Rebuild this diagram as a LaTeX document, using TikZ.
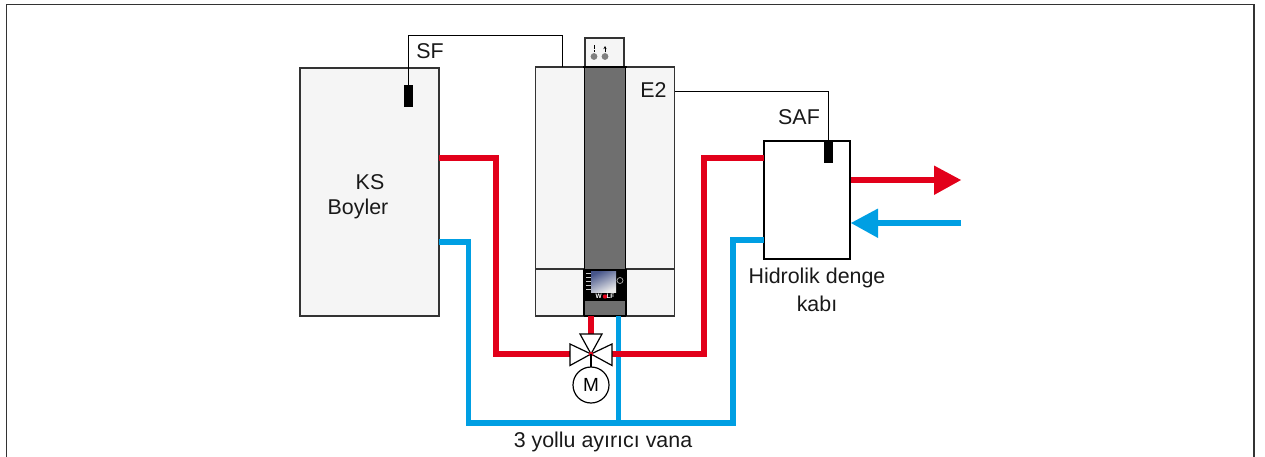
\documentclass[tikz,border=0pt]{standalone}
\usepackage{fontspec}
\setmainfont{Liberation Sans}
\usetikzlibrary{arrows.meta}
\definecolor{pipered}{HTML}{E2001A}
\definecolor{pipeblue}{HTML}{009FE3}
\definecolor{panel}{HTML}{F5F5F5}
\definecolor{column}{HTML}{6F6F6F}
\definecolor{framegray}{HTML}{333333}
\definecolor{screendark}{HTML}{46558A}
\tikzset{
  unit/.style={draw=framegray,line width=1.4pt,fill=panel,inner sep=0pt,outer sep=0pt,rectangle},
  sensor/.style={fill=black,draw=none,inner sep=0pt,outer sep=0pt,minimum width=8.5pt,minimum height=22pt,rectangle},
  wire/.style={draw=black,line width=1pt},
  redpipe/.style={draw=pipered,line width=5.5pt,line join=miter},
  bluepipe/.style={draw=pipeblue,line width=5.5pt,line join=miter},
  txt/.style={font=\fontsize{21.4}{25}\selectfont,text=black!90,inner sep=0pt,align=center},
  valvepart/.style={draw=black,line width=1.2pt,fill=white,line join=miter},
}
\begin{document}
\begin{tikzpicture}[x=1pt,y=-1pt]
\useasboundingbox (0,0) rectangle (1265,457);
% frame
\coordinate (fbl) at (6.5,457);
\coordinate (ftl) at (6.5,4.5);
\coordinate (ftr) at (1254,4.5);
\coordinate (fbr) at (1254,457);
\draw[draw=framegray,line width=1.3pt] (fbl) -- (ftl) -- (ftr) -- (fbr);

% units
\node[unit,minimum width=139pt,minimum height=248pt] (ks) at (369.5,192) {};
\node[unit,minimum width=139pt,minimum height=249pt] (boiler) at (605,191.5) {};
\coordinate (divL) at (535,269);
\coordinate (divR) at (674,269);
\draw[draw=framegray,line width=1.2pt] (divL) -- (divR);

% top cap
\node[unit,line width=1.1pt,minimum width=39pt,minimum height=29pt] (cap) at (604.5,52.5) {};
\fill[gray] (594,56.5) circle (3.4pt) (605,56.5) circle (3.4pt);
\draw[black,line width=0.8pt] (594,45.5) -- (594,49) (594,50) -- (594,52.5);
\draw[black,line width=0.8pt,-{Stealth[length=3pt,width=3pt]}] (605,52.5) -- (605,46);

% central column
\node[draw=black,line width=1.2pt,fill=column,inner sep=0pt,outer sep=0pt,minimum width=41.5pt,minimum height=249pt] (col) at (605,191.5) {};
\draw[black,line width=1.6pt] (583,67) -- (627,67);
\fill[black] (584,269) rectangle (626,301);
\draw[black,line width=1.2pt] (584,269) -- (584,316) (626,269) -- (626,316);
\shade[left color=screendark,right color=black!8,shading angle=25] (591,271) rectangle (616,292);
\draw[white!70!black,line width=0.7pt] (620,280.5) circle (3pt);
\foreach \yy in {273,277,281,285,289}
  \draw[white!80!black,line width=0.9pt] (586,\yy) -- (591,\yy);
\node[font=\fontsize{6.5}{7}\bfseries\selectfont,text=white,inner sep=0pt] (wolf) at (605,296.5) {W\hspace{4.8pt}LF};
\fill[pipered] (wolf.center) circle (2.2pt);

% buffer vessel
\node[draw=black,line width=2.6pt,fill=white,inner sep=0pt,outer sep=0pt,minimum width=86pt,minimum height=118pt] (buffer) at (807,200) {};

% sensors
\node[sensor] (sf) at (408.5,96) {};
\node[sensor] (saf) at (828.5,152) {};

% wires
\coordinate (sfa) at (408.5,35.6);
\coordinate (sfb) at (562.6,35.6);
\coordinate (sfc) at (562.6,67);
\draw[wire] (sf.north) -- (sfa) -- (sfb) -- (sfc);
\coordinate (e2a) at (675,91.7);
\coordinate (e2b) at (828.5,91.7);
\draw[wire] (e2a) -- (e2b) -- (saf.north);

% valve
\coordinate (vc) at (591,354);
\coordinate (vl) at (570,354);
\coordinate (vr) at (612,354);
\coordinate (vt) at (591,334);
\coordinate (colb) at (591,316);
% pipes (red)
\coordinate (r1a) at (439,158);
\coordinate (r1b) at (496,158);
\coordinate (r1c) at (496,354);
\draw[redpipe] (r1a) -- (r1b) -- (r1c) -- (vl);
\coordinate (r2a) at (704,354);
\coordinate (r2b) at (704,158);
\coordinate (r2c) at (764,158);
% pipes (blue)
\coordinate (b1a) at (439,242);
\coordinate (b1b) at (468.5,242);
\coordinate (b1c) at (468.5,423);
\coordinate (b1d) at (733,423);
\coordinate (b1e) at (733,240);
\coordinate (b1f) at (764,240);
\draw[bluepipe] (b1a) -- (b1b) -- (b1c) -- (b1d) -- (b1e) -- (b1f);
\coordinate (b2a) at (618.5,316);
\coordinate (b2b) at (618.5,423);
\draw[bluepipe] (b2a) -- (b2b);
\draw[redpipe] (vr) -- (r2a) -- (r2b) -- (r2c);
\draw[redpipe] (colb) -- (vt);

% output arrows
\coordinate (outa) at (851,180);
\coordinate (outb) at (936,180);
\coordinate (outt) at (961,180);
\draw[redpipe] (outa) -- (outb);
\fill[pipered] (934,165.5) -- (outt) -- (934,195) -- cycle;
\coordinate (ina) at (961,223);
\coordinate (inb) at (877,223);
\coordinate (intip) at (851,223);
\draw[bluepipe] (ina) -- (inb);
\fill[pipeblue] (878,208.5) -- (intip) -- (878,238) -- cycle;

% valve body
\draw[valvepart] (580,334) -- (602,334) -- (vc) -- cycle;
\draw[valvepart] (570,344) -- (570,365.5) -- (vc) -- cycle;
\draw[valvepart] (612,344) -- (612,365.5) -- (vc) -- cycle;
\fill[pipered] (vc) circle (2.2pt);
\node[draw=black,line width=1.2pt,fill=white,circle,inner sep=0pt,outer sep=0pt,minimum size=36pt,font=\fontsize{19}{22}\selectfont] (motor) at (591,385) {M};
\draw[black,line width=1.2pt] (vc) -- (motor.north);

% labels
\node[txt] (lsf) at (430,51) {SF};
\node[txt] (le2) at (653.5,90) {E2};
\node[txt] (lsaf) at (799,117.5) {SAF};
\node[txt] (lks) at (370,182) {KS};
\node[txt] (lboy) at (358,209) {Boyler};
\node[txt] (lhid) at (817,277.5) {Hidrolik denge};
\node[txt] (lkab) at (817,304) {kabı};
\node[txt] (lvana) at (603,442) {3 yollu ayırıcı vana};
\end{tikzpicture}
\end{document}
